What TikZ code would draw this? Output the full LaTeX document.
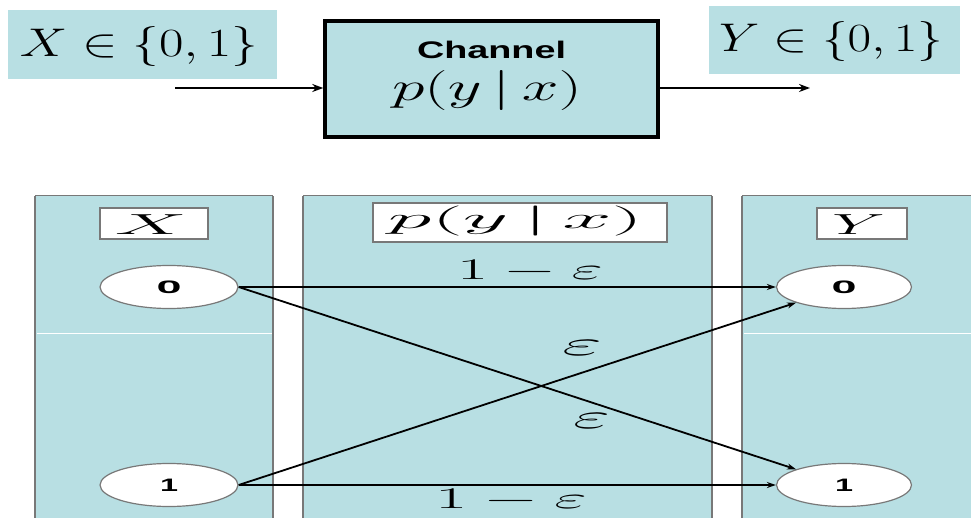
\RequirePackage{fix-cm}
\documentclass[tikz,border=0pt]{standalone}
\usepackage{fontspec}
\usepackage{graphicx}
\usetikzlibrary{arrows.meta,shapes.geometric}
\newfontfamily\arialfam{Liberation Sans}
\definecolor{chanblue}{RGB}{184,223,227}
\definecolor{bordergray}{RGB}{120,120,120}
\newcommand{\sxw}[2]{\resizebox{#1}{\height}{#2}}
\newcommand{\gbar}{\mkern3mu|\mkern3mu}
\tikzset{
  bluebox/.style={fill=chanblue, draw=none, inner sep=0pt},
  chanbox/.style={fill=chanblue, draw=black, line width=3.5pt, inner sep=0pt},
  lblbox/.style={fill=white, draw=bordergray, line width=1.5pt, inner sep=0pt},
  stellipse/.style={ellipse, fill=white, draw=bordergray, line width=1.2pt, inner sep=0pt, minimum height=43pt},
  colfill/.style={fill=chanblue},
  colborder/.style={draw=bordergray, line width=2.5pt},
  txt/.style={inner sep=0pt, anchor=base},
  toparr/.style={draw=black, line width=2.4pt, -{Stealth[length=11pt,width=8pt]}},
  edge/.style={draw=black, line width=1.8pt, -{Stealth[length=9pt,width=6pt]}}
}
\begin{document}
\begin{tikzpicture}[x=1pt,y=-1pt]
\useasboundingbox (0,0) rectangle (971,518);
\fill[white] (0,0) rectangle (971,518);

% ---------- top block diagram ----------
\node[bluebox, minimum width=269pt, minimum height=69pt] (xin) at (142.5,44.5) {};
\node[txt] (xintxt) at (139,57) {\sxw{238pt}{\fontsize{40}{44}\selectfont$X\in\bigl\{0,1\bigr\}$}};
\node[bluebox, minimum width=251pt, minimum height=68pt] (yout) at (834.5,40) {};
\node[txt] (youttxt) at (831,52) {\sxw{224pt}{\fontsize{40}{44}\selectfont$Y\in\bigl\{0,1\bigr\}$}};

\node[chanbox, minimum width=333pt, minimum height=116pt] (chan) at (491.5,79) {};
\node[txt] (chanlbl) at (491.5,59) {\sxw{149pt}{\arialfam\bfseries\fontsize{24}{26}\selectfont Channel}};
\node[txt] (chanp) at (487,101) {\sxw{190pt}{\fontsize{40}{44}\selectfont$p(y\gbar x)$}};

\coordinate (instart) at (175,88);
\coordinate (outend) at (810,88);
\draw[toparr] (instart) -- (instart -| chan.west);
\draw[toparr] (outend -| chan.east) -- (outend);

% ---------- bottom columns ----------
\fill[colfill] (35,196) rectangle (273,518);
\fill[colfill] (303,196) rectangle (712,518);
\fill[colfill] (742,196) rectangle (971,518);
\draw[colborder] (35,518) -- (35,196);
\draw[colborder] (273,518) -- (273,196);
\draw[colborder] (303,518) -- (303,196);
\draw[colborder] (712,518) -- (712,196);
\draw[colborder] (742,518) -- (742,196);
\draw[bordergray, line width=1pt] (35,196) -- (273,196);
\draw[bordergray, line width=1pt] (303,196) -- (712,196);
\draw[bordergray, line width=1pt] (742,196) -- (971,196);
\draw[white, line width=1pt] (36.5,333) -- (271.5,333);
\draw[white, line width=1pt] (743.5,333) -- (971,333);

% column headers
\node[lblbox, minimum width=108pt, minimum height=31pt] (xhead) at (154,223.5) {};
\node[txt] (xheadtxt) at (151,234.5) {\sxw{72pt}{\fontsize{29}{32}\selectfont$X$}};
\node[lblbox, minimum width=294pt, minimum height=39pt] (phead) at (520,222.5) {};
\node[txt] (pheadtxt) at (515.5,229) {\sxw{255pt}{\fontsize{30}{33}\selectfont$p(y\gbar x)$}};
\node[lblbox, minimum width=90pt, minimum height=31pt] (yhead) at (862,223.5) {};
\node[txt] (yheadtxt) at (858.5,234.5) {\sxw{53pt}{\fontsize{29}{32}\selectfont$Y$}};

% states
\node[stellipse, minimum width=138pt] (x0) at (169,287) {\sxw{25pt}{\arialfam\bfseries\fontsize{18}{20}\selectfont 0}};
\node[stellipse, minimum width=138pt] (x1) at (169,485) {\sxw{18pt}{\arialfam\bfseries\fontsize{18}{20}\selectfont 1}};
\node[stellipse, minimum width=135pt] (y0) at (844,287) {\sxw{25pt}{\arialfam\bfseries\fontsize{18}{20}\selectfont 0}};
\node[stellipse, minimum width=135pt] (y1) at (844,485) {\sxw{18pt}{\arialfam\bfseries\fontsize{18}{20}\selectfont 1}};

% transitions
\draw[edge] (x0) -- (y0);
\draw[edge] (x0.east) -- (y1);
\draw[edge] (x1.east) -- (y0);
\draw[edge] (x1) -- (y1);

% labels
\node[txt] (l00) at (530,280) {\sxw{146pt}{\fontsize{30}{33}\selectfont$1-\varepsilon$}};
\node[txt] (l10) at (582,355) {\sxw{40pt}{\fontsize{35}{38}\selectfont$\varepsilon$}};
\node[txt] (l01) at (591.5,428) {\sxw{37pt}{\fontsize{35}{38}\selectfont$\varepsilon$}};
\node[txt] (l11) at (511,508) {\sxw{152pt}{\fontsize{30}{33}\selectfont$1-\varepsilon$}};
\end{tikzpicture}
\end{document}
